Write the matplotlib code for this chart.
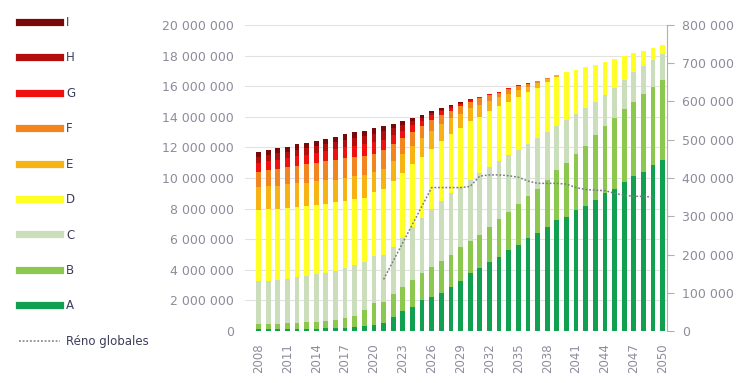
import matplotlib.pyplot as plt
import numpy as np
from matplotlib.lines import Line2D
from matplotlib.ticker import FuncFormatter

plt.rcParams['font.family'] = ['DejaVu Sans']

years = np.arange(2008, 2051)

# stock by label, in millions
A = [0.10, 0.10, 0.10, 0.12, 0.12, 0.15, 0.15, 0.18, 0.20, 0.22, 0.25, 0.30,
     0.40, 0.50, 0.90, 1.30, 1.60, 2.00, 2.20, 2.50, 2.90, 3.30, 3.80, 4.10,
     4.50, 4.85, 5.30, 5.60, 6.05, 6.40, 6.80, 7.25, 7.45, 7.90, 8.20, 8.55,
     9.00, 9.30, 9.75, 10.10, 10.40, 10.85, 11.20]
B = [0.35, 0.35, 0.37, 0.38, 0.40, 0.42, 0.45, 0.50, 0.55, 0.63, 0.75, 1.10,
     1.40, 1.40, 1.55, 1.60, 1.75, 1.80, 2.00, 2.10, 2.10, 2.20, 2.10, 2.20,
     2.30, 2.45, 2.50, 2.70, 2.75, 2.90, 3.10, 3.25, 3.55, 3.70, 3.90, 4.25,
     4.40, 4.60, 4.75, 4.90, 5.10, 5.10, 5.20]
C = [2.85, 2.85, 2.88, 2.90, 2.98, 3.03, 3.10, 3.12, 3.20, 3.25, 3.30, 3.10,
     3.10, 3.10, 3.05, 3.20, 3.45, 3.60, 3.80, 3.90, 4.00, 3.90, 3.95, 4.00,
     3.90, 3.80, 3.70, 3.50, 3.40, 3.30, 3.10, 2.90, 2.80, 2.60, 2.50, 2.20,
     2.00, 2.00, 1.90, 1.90, 1.80, 1.75, 1.70]
D = [4.60, 4.65, 4.65, 4.65, 4.60, 4.60, 4.55, 4.50, 4.45, 4.40, 4.30, 4.20,
     4.20, 4.30, 4.30, 4.20, 4.10, 4.00, 3.90, 3.90, 3.90, 3.90, 3.85, 3.70,
     3.65, 3.60, 3.50, 3.50, 3.40, 3.30, 3.25, 3.20, 3.10, 2.85, 2.65, 2.40,
     2.20, 1.90, 1.55, 1.25, 1.00, 0.80, 0.60]
E = [1.50, 1.50, 1.50, 1.55, 1.55, 1.50, 1.55, 1.55, 1.50, 1.50, 1.50, 1.50,
     1.30, 1.30, 1.30, 1.30, 1.20, 1.20, 1.20, 1.10, 1.00, 0.90, 0.85, 0.80,
     0.70, 0.60, 0.50, 0.45, 0.35, 0.30, 0.20, 0.10, 0, 0, 0, 0,
     0, 0, 0, 0, 0, 0, 0]
F = [1.00, 1.05, 1.10, 1.10, 1.15, 1.20, 1.20, 1.25, 1.30, 1.30, 1.30, 1.25,
     1.20, 1.20, 1.10, 1.00, 0.90, 0.80, 0.70, 0.60, 0.50, 0.50, 0.45, 0.40,
     0.35, 0.28, 0.30, 0.25, 0.20, 0.15, 0.10, 0, 0, 0, 0, 0,
     0, 0, 0, 0, 0, 0, 0]
G = [0.60, 0.60, 0.60, 0.60, 0.62, 0.62, 0.65, 0.65, 0.68, 0.70, 0.72, 0.75,
     0.75, 0.70, 0.60, 0.50, 0.45, 0.35, 0.30, 0.25, 0.20, 0.15, 0.10, 0.07,
     0.06, 0.05, 0.05, 0.05, 0.05, 0, 0, 0, 0, 0, 0, 0,
     0, 0, 0, 0, 0, 0, 0]
H = [0.40, 0.42, 0.42, 0.42, 0.44, 0.44, 0.45, 0.45, 0.47, 0.50, 0.52, 0.55,
     0.55, 0.55, 0.45, 0.35, 0.25, 0.20, 0.15, 0.10, 0.10, 0.07, 0.04, 0.03,
     0.04, 0.02, 0, 0, 0, 0, 0, 0, 0, 0, 0, 0,
     0, 0, 0, 0, 0, 0, 0]
I = [0.30, 0.33, 0.33, 0.33, 0.34, 0.34, 0.35, 0.35, 0.35, 0.35, 0.36, 0.35,
     0.35, 0.35, 0.30, 0.25, 0.20, 0.15, 0.10, 0.10, 0.05, 0.03, 0.01, 0,
     0, 0, 0, 0, 0, 0, 0, 0, 0, 0, 0, 0,
     0, 0, 0, 0, 0, 0, 0]

labels = ['A', 'B', 'C', 'D', 'E', 'F', 'G', 'H', 'I']
colors = ['#10a050', '#8cc84e', '#cbdebb', '#ffff26', '#f7b214',
          '#f38521', '#ef1010', '#b40d0d', '#7a0808']

# Réno globales (right axis), 2021 -> 2049
reno_years = np.arange(2021, 2050)
reno = [135000, 183000, 231000, 279000, 327000, 375000, 375000, 375000, 375000,
        378000, 405000, 408000, 408000, 406000, 402000, 392000, 386000, 386000,
        386000, 384000, 375000, 370000, 368000, 367000, 360000, 355000, 352000,
        352000, 350000]

W, H_px = 752, 383
fig = plt.figure(figsize=(W / 100, H_px / 100), dpi=100)
ax = fig.add_axes([245 / W, 1 - 331 / H_px, (667 - 245) / W, (331 - 25) / H_px])

series = [A, B, C, D, E, F, G, H, I]
bottom = np.zeros(len(years))
for vals, col in zip(series, colors):
    v = np.array(vals) * 1e6
    ax.bar(years, v, bottom=bottom, width=0.5, color=col, linewidth=0, zorder=2)
    bottom += v

grey = '#8c8c9c'
ax.set_ylim(0, 20e6)
ax.set_yticks(np.arange(0, 20e6 + 1, 2e6))
ax.yaxis.set_major_formatter(FuncFormatter(lambda v, p: f"{int(v):,}".replace(",", " ")))
ax.grid(axis='y', color='#e2e2e2', linewidth=0.8, zorder=0)
ax.set_xlim(2006.6, 2050.45)
ax.set_xticks(years[::3])
ax.set_xticklabels([str(y) for y in years[::3]], rotation=90)
ax.tick_params(axis='y', length=0, pad=8, labelsize=9, labelcolor=grey)
ax.tick_params(axis='x', length=0, pad=9, labelsize=8.5, labelcolor=grey)
for s in ['top', 'left', 'right', 'bottom']:
    ax.spines[s].set_visible(False)

ax2 = ax.twinx()
ax2.plot(reno_years, reno, color='#7a7a8a', linestyle=(0, (1.2, 1.2)), linewidth=1.1, zorder=5)
ax2.set_ylim(0, 800000)
ax2.set_yticks(np.arange(0, 800001, 100000))
ax2.yaxis.set_major_formatter(FuncFormatter(lambda v, p: f"{int(v):,}".replace(",", " ")))
ax2.tick_params(axis='y', length=5, width=0.8, color='#b0b0b0', pad=6, labelsize=9, labelcolor=grey)
for s in ['top', 'left', 'bottom']:
    ax2.spines[s].set_visible(False)
ax2.spines['right'].set_color('#b0b0b0')

handles = [Line2D([0], [0], color=c, linewidth=5.2) for c in colors[::-1]]
handles.append(Line2D([0], [0], color='#7a7a8a', linestyle=(0, (1.2, 1.2)), linewidth=1.1))
names = labels[::-1] + ['Réno globales']
fig.legend(handles, names, loc='upper left', bbox_to_anchor=(19 / W, 1 - 16 / H_px),
           frameon=False, handlelength=3.5, handletextpad=0.5, labelspacing=1.9,
           fontsize=8.5, labelcolor='#3c3c5c', borderaxespad=0, borderpad=0)

fig.savefig('out.png', dpi=100)
